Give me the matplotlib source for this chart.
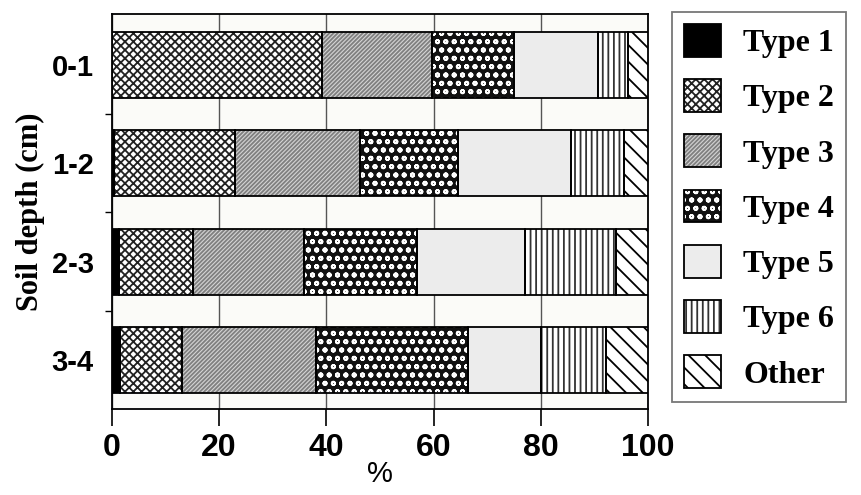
import matplotlib
matplotlib.use("Agg")
import matplotlib.pyplot as plt
from matplotlib.patches import Patch
import numpy as np

depths = ["0-1", "1-2", "2-3", "3-4"]
types = ["Type 1", "Type 2", "Type 3", "Type 4", "Type 5", "Type 6", "Other"]
type1 = [0.0, 0.3, 1.3, 1.5]
type2 = [39.1, 22.7, 13.8, 11.6]
type3 = [20.7, 23.3, 20.7, 24.9]
type4 = [15.2, 18.2, 21.2, 28.4]
type5 = [15.6, 21.2, 20.0, 13.7]
type6 = [5.7, 9.9, 17.1, 12.0]
other = [3.7, 4.4, 5.9, 7.9]
xticks = [0, 20, 40, 60, 80, 100]

series = [type1, type2, type3, type4, type5, type6, other]
# (facecolor, hatch, hatchcolor)
styles = [
    ("black", None, "black"),
    ("white", "xxxx", "#222222"),
    ("#d4d4d4", "////////", "#808080"),
    ("#111111", "oo", "white"),
    ("#ececec", None, "#dddddd"),
    ("white", "|||", "#333333"),
    ("white", "\\\\", "black"),
]

plt.rcParams["hatch.linewidth"] = 1.3
fig = plt.figure(figsize=(8.61, 4.95), dpi=100)
ax = fig.add_axes([0.130, 0.1737, 0.6226, 0.798])
ax.set_facecolor("#fbfbf8")

y = np.arange(len(depths))
left = np.zeros(len(depths))
handles = []
for vals, (fc, hatch, hc), name in zip(series, styles, types):
    vals = np.array(vals)
    ax.barh(y, vals, left=left, height=0.67, color=fc, hatch=hatch,
            edgecolor=hc, linewidth=0, zorder=3)
    ax.barh(y, vals, left=left, height=0.67, fill=False,
            edgecolor="black", linewidth=1.3, zorder=4)
    handles.append((Patch(facecolor=fc, hatch=hatch, edgecolor=hc, linewidth=0),
                    Patch(fill=False, edgecolor="black", linewidth=1.3)))
    left = left + vals

ax.set_xlim(0, 100)
ax.set_ylim(3.5, -0.52)
ax.set_xticks(xticks)
ax.set_xticklabels([str(t) for t in xticks])
ax.set_yticks(y)
ax.set_yticklabels(depths)
ax.set_yticks([0.5, 1.5, 2.5], minor=True)
ax.tick_params(axis="y", which="major", length=0, pad=13)
ax.tick_params(axis="y", which="minor", length=5, width=1, direction="out")
ax.tick_params(axis="x", length=12, width=1.2, direction="out", pad=5)
ax.grid(axis="x", color="#555555", linewidth=1.0, zorder=1)
ax.set_axisbelow(True)
for s in ax.spines.values():
    s.set_linewidth(1.3)

for lbl in ax.get_xticklabels():
    lbl.set_fontfamily("Liberation Sans")
    lbl.set_fontweight("bold")
    lbl.set_fontsize(23)
for lbl in ax.get_yticklabels():
    lbl.set_fontfamily("Liberation Sans")
    lbl.set_fontweight("bold")
    lbl.set_fontsize(21)

ax.set_xlabel("%", fontfamily="Liberation Sans", fontsize=21, labelpad=-2)
ax.set_ylabel("Soil depth (cm)", fontfamily="Liberation Serif", fontweight="bold",
              fontsize=22, labelpad=5)

leg = fig.legend(handles, types, loc="upper left", bbox_to_anchor=(0.7805, 0.976),
                 borderaxespad=0, frameon=True, fancybox=False, edgecolor="#555555",
                 prop={"family": "Liberation Serif", "weight": "bold", "size": 23},
                 handlelength=1.15, handleheight=1.2, labelspacing=0.66,
                 handletextpad=0.7, borderpad=0.38)
leg.get_frame().set_linewidth(1.3)

fig.savefig("out.png", dpi=100)
